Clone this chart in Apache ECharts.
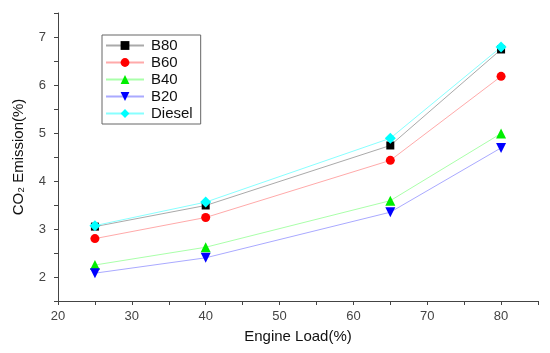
<!DOCTYPE html>
<html>
<head>
<meta charset="utf-8">
<script src="https://cdn.jsdelivr.net/npm/echarts@6/dist/echarts.min.js"></script>
<style>html,body{margin:0;padding:0;background:#fff;}#c{width:550px;height:353px;}</style>
</head>
<body>
<div id="c"></div>
<script>
const loads = [25, 40, 65, 80];
const B80 = [3.05, 3.49, 4.74, 6.74];
const B60 = [2.80, 3.24, 4.43, 6.18];
const B40 = [2.25, 2.62, 3.59, 4.99];
const B20 = [2.08, 2.40, 3.35, 4.69];
const Diesel = [3.07, 3.56, 4.89, 6.79];
const xTicks = [20, 30, 40, 50, 60, 70, 80];
const yTicks = [2, 3, 4, 5, 6, 7];

const FONT = '"Liberation Sans", Arial, sans-serif';
function mk(name, vals, sym, symColor, lineColor, size) {
  return {
    name: name, type: 'line', data: loads.map((x, i) => [x, vals[i]]),
    symbol: sym, symbolSize: size, showSymbol: true,
    itemStyle: { color: symColor },
    lineStyle: { color: lineColor, width: 1 },
    emphasis: { disabled: true }, animation: false
  };
}
const downTri = 'path://M0,0 L10,0 L5,9 Z';
const chart = echarts.init(document.getElementById('c'), null, { renderer: 'canvas' });
chart.setOption({
  backgroundColor: '#fff',
  animation: false,
  textStyle: { fontFamily: FONT },
  grid: { left: 58, right: 12, top: 13, bottom: 52 },
  legend: {
    orient: 'vertical', left: 102, top: 35,
    padding: [3, 8, 3, 3],
    borderColor: '#666', borderWidth: 1, borderRadius: 0,
    itemWidth: 38, itemHeight: 11, itemGap: 2,
    textStyle: { fontSize: 15, color: '#111', fontFamily: FONT, padding: [0, 0, 0, 2] },
    data: ['B80', 'B60', 'B40', 'B20', 'Diesel']
  },
  xAxis: {
    type: 'value', min: 20, max: 85, interval: 5,
    name: 'Engine Load(%)', nameLocation: 'middle', nameGap: 28,
    nameTextStyle: { fontSize: 15, color: '#111', fontFamily: FONT },
    axisLine: { lineStyle: { color: '#444', width: 1 } },
    axisTick: { inside: false, length: 4, lineStyle: { color: '#444' } },
    axisLabel: { fontSize: 13, color: '#444', margin: 9, fontFamily: FONT,
      formatter: v => xTicks.indexOf(v) >= 0 ? String(v) : '' },
    splitLine: { show: false }
  },
  yAxis: {
    type: 'value', min: 1.5, max: 7.5, interval: 0.5,
    name: 'CO₂ Emission(%)', nameLocation: 'middle', nameGap: 32, nameRotate: 90,
    nameTextStyle: { fontSize: 15, color: '#111', fontFamily: FONT },
    axisLine: { show: true, lineStyle: { color: '#444', width: 1 } },
    axisTick: { show: true, inside: false, length: 4, lineStyle: { color: '#444' } },
    axisLabel: { fontSize: 13, color: '#444', margin: 12, fontFamily: FONT,
      formatter: v => yTicks.indexOf(v) >= 0 ? String(v) : '' },
    splitLine: { show: false }
  },
  series: [
    mk('B80', B80, 'rect', '#000000', '#aaaaaa', 8),
    mk('B60', B60, 'circle', '#ff0000', '#ffaaaa', 9),
    mk('B40', B40, 'triangle', '#00ee00', '#aaffaa', 10),
    mk('B20', B20, downTri, '#0000ff', '#aaaaff', 10),
    mk('Diesel', Diesel, 'diamond', '#00ffff', '#88ffff', 11)
  ]
});
</script>
</body>
</html>
